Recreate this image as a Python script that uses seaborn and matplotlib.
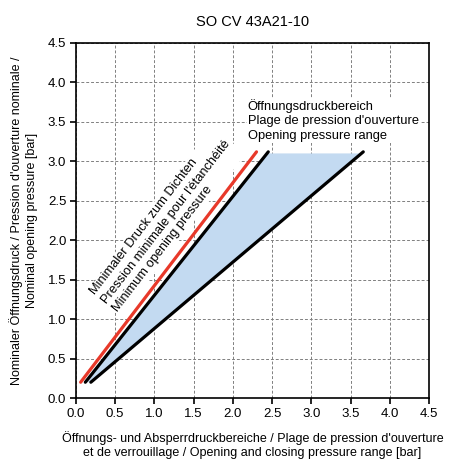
import numpy as np
import pandas as pd
import matplotlib
matplotlib.use("Agg")
import matplotlib.pyplot as plt
import seaborn as sns

# values
line_names = ["min_seal", "range_low", "range_high"]
x_start = [0.06, 0.12, 0.19]
x_end = [2.30, 2.45, 3.66]
y_start = [0.20, 0.20, 0.20]
y_end = [3.12, 3.12, 3.12]
line_colors = ["#e8392a", "black", "black"]

fill_top = 3.10
ticks = np.arange(0, 4.51, 0.5)

# build a long table for seaborn
rows = []
for n, xs, xe, ys, ye in zip(line_names, x_start, x_end, y_start, y_end):
    rows.append({"line": n, "x": xs, "y": ys})
    rows.append({"line": n, "x": xe, "y": ye})
df = pd.DataFrame(rows)

sns.set_style("whitegrid", {"grid.linestyle": "--", "grid.color": "#7f7f7f",
                            "axes.edgecolor": "black", "text.color": "black",
                            "axes.labelcolor": "black", "xtick.color": "black",
                            "ytick.color": "black"})
plt.rcParams['font.family'] = ['Liberation Sans', 'DejaVu Sans']

fig = plt.figure(figsize=(4.63, 4.62), dpi=100)
ax = fig.add_axes([0.164, 0.1385, 0.763, 0.7685])

# shaded opening pressure range between the two black lines
s_lo = (y_end[1] - y_start[1]) / (x_end[1] - x_start[1])
s_hi = (y_end[2] - y_start[2]) / (x_end[2] - x_start[2])
top_lo = x_start[1] + (fill_top - y_start[1]) / s_lo
top_hi = x_start[2] + (fill_top - y_start[2]) / s_hi
ax.fill([x_start[1], top_lo, top_hi, x_start[2]],
        [y_start[1], fill_top, fill_top, y_start[2]],
        color="#c3daf1", lw=0, zorder=1)

sns.lineplot(data=df, x="x", y="y", hue="line", palette=dict(zip(line_names, line_colors)),
             lw=2.3, legend=False, ax=ax, zorder=3, estimator=None, sort=False)

ax.set_xlim(0, 4.5)
ax.set_ylim(0, 4.5)
ax.set_xticks(ticks)
ax.set_yticks(ticks)
ax.xaxis.set_major_formatter(plt.FormatStrFormatter("%.1f"))
ax.yaxis.set_major_formatter(plt.FormatStrFormatter("%.1f"))
ax.tick_params(direction="out", length=4, width=1.2, color="black", labelsize=9.5,
               bottom=True, left=True, pad=3)
for sp in ax.spines.values():
    sp.set_linewidth(1.2)
    sp.set_color("black")
ax.grid(True, linestyle=(0, (3, 2)), color="#808080", lw=0.7)

ax.set_title("SO CV 43A21-10", fontsize=10.5, pad=12)
ax.set_xlabel("Öffnungs- und Absperrdruckbereiche / Plage de pression d'ouverture\n"
              "et de verrouillage / Opening and closing pressure range [bar]",
              fontsize=9, labelpad=8, linespacing=1.25)
ax.set_ylabel("Nominaler Öffnungsdruck / Pression d'ouverture nominale /\n"
              "Nominal opening pressure [bar]", fontsize=9, labelpad=7, linespacing=1.3)

# rotated note along the red line, white box hides the grid behind it
ax.text(1.15, 2.235, "Minimaler Druck zum Dichten\nPression minimale pour l'étanchéité\n"
        "Minimum opening pressure", rotation=52.4, rotation_mode="anchor",
        ha="center", va="center", multialignment="left", fontsize=9.3,
        linespacing=1.25, zorder=2,
        bbox=dict(facecolor="white", edgecolor="none", pad=1.0))
ax.text(2.19, 3.52, "Öffnungsdruckbereich\nPlage de pression d'ouverture\n"
        "Opening pressure range", ha="left", va="center", fontsize=9.3,
        linespacing=1.3, zorder=4,
        bbox=dict(facecolor="white", edgecolor="none", pad=0.5))

fig.savefig("out.png", dpi=100)
